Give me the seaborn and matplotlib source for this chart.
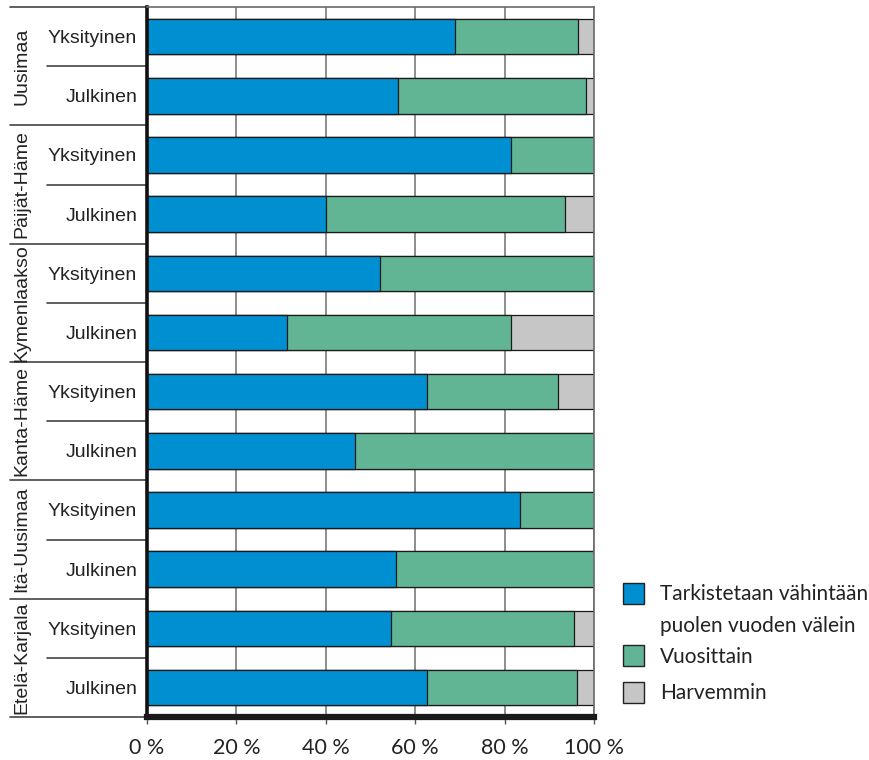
import numpy as np
import pandas as pd
import matplotlib
matplotlib.use("Agg")
import matplotlib.pyplot as plt
import seaborn as sns
from matplotlib import font_manager as fm
from matplotlib.transforms import blended_transform_factory
from matplotlib.patches import Rectangle
from matplotlib.lines import Line2D

regions = ["Uusimaa", "Päijät-Häme", "Kymenlaakso", "Kanta-Häme", "Itä-Uusimaa", "Etelä-Karjala"]
sectors = ["Yksityinen", "Julkinen"]
often = [68.8, 56.1, 81.4, 40.0, 52.1, 31.3, 62.7, 46.5, 83.5, 55.6, 54.6, 62.7]
yearly = [27.7, 42.0, 18.6, 53.5, 47.9, 50.1, 29.3, 53.5, 16.5, 44.4, 41.0, 33.4]
rarely = [3.5, 1.9, 0.0, 6.5, 0.0, 18.6, 8.0, 0.0, 0.0, 0.0, 4.4, 3.9]
series_names = ["Tarkistetaan vähintään\npuolen vuoden välein", "Vuosittain", "Harvemmin"]
xticks = [0, 20, 40, 60, 80, 100]
xtick_labels = ["0 %", "20 %", "40 %", "60 %", "80 %", "100 %"]

colors = ["#008FD1", "#62B594", "#C6C6C6"]

sns.set_style("white")
names = {f.name for f in fm.fontManager.ttflist}
narrow = next((n for n in ["Liberation Sans Narrow", "Lato", "Roboto"] if n in names), "DejaVu Sans")
plt.rcParams["font.family"] = ["Liberation Sans", "DejaVu Sans"]

rows = [f"{r}|{s}" for r in regions for s in sectors]
df = pd.DataFrame({"row": rows, "often": often, "yearly": yearly, "rarely": rarely})
df["c1"] = df["often"]
df["c2"] = df["often"] + df["yearly"]
df["c3"] = df["c2"] + df["rarely"]

fig = plt.figure(figsize=(8.7, 7.6), dpi=100)
ax = fig.add_axes([147 / 870, 1 - 717 / 760, (594 - 147) / 870, (717 - 7) / 760])

for col, c in zip(["c3", "c2", "c1"], colors[::-1]):
    sns.barplot(data=df, y="row", x=col, order=rows, orient="h", color=c,
                saturation=1, edgecolor="#1a1a1a", linewidth=0.9, width=0.6,
                errorbar=None, ax=ax)

ax.set_xlim(0, 100)
ax.set_ylim(11.5, -0.5)
ax.set_xticks(xticks)
ax.set_xticklabels(xtick_labels, fontsize=15.5, family=[narrow, "DejaVu Sans"], color="#222222")
ax.set_yticks(range(len(rows)))
ax.set_yticklabels([r.split("|")[1] for r in rows], fontsize=14, color="#222222")
ax.set_xlabel("")
ax.set_ylabel("")
ax.xaxis.grid(True, color="#7a7a7a", lw=1.2)
ax.yaxis.grid(False)
ax.set_axisbelow(True)
ax.tick_params(axis="x", bottom=True, length=5, width=1, color="#555555", pad=10, direction="out")
ax.tick_params(axis="y", left=False, length=0, pad=7)

ax.spines["left"].set_color("#111111")
ax.spines["left"].set_linewidth(2.6)
ax.spines["bottom"].set_color("#1a1a1a")
ax.spines["bottom"].set_linewidth(4.5)
for s in ["top", "right"]:
    ax.spines[s].set_color("#6a6a6a")
    ax.spines[s].set_linewidth(1.2)

tr = blended_transform_factory(ax.transAxes, ax.transData)
x_outer = (10 - 147) / 447
x_inner = (47 - 147) / 447
x_lab = (22 - 147) / 447
for i, reg in enumerate(regions):
    ax.text(x_lab, 2 * i + 0.5, reg, transform=tr, rotation=90, ha="center", va="center",
            fontsize=14, color="#222222")
    ax.add_line(Line2D([x_inner, 0], [2 * i + 0.5, 2 * i + 0.5], transform=tr, color="#444444",
                       lw=1.2, clip_on=False))
for k in range(len(regions) + 1):
    y = 2 * k - 0.5
    ax.add_line(Line2D([x_outer, 0], [y, y], transform=tr, color="#444444", lw=1.2, clip_on=False))

# legend
lines0 = series_names[0].split("\n")
leg_items = [(583, [(594, lines0[0]), (626, lines0[1])]),
             (645, [(657, series_names[1])]),
             (682, [(693, series_names[2])])]
for (ytop, texts), c in zip(leg_items, colors):
    fig.patches.append(Rectangle((623 / 870, 1 - (ytop + 21) / 760), 21 / 870, 21 / 760,
                                 transform=fig.transFigure, facecolor=c, edgecolor="#222222", lw=1))
    for yc, t in texts:
        fig.text(660 / 870, 1 - yc / 760, t, ha="left", va="center", fontsize=15,
                 family=[narrow, "DejaVu Sans"], color="#222222")

fig.savefig("out.png", dpi=100)
